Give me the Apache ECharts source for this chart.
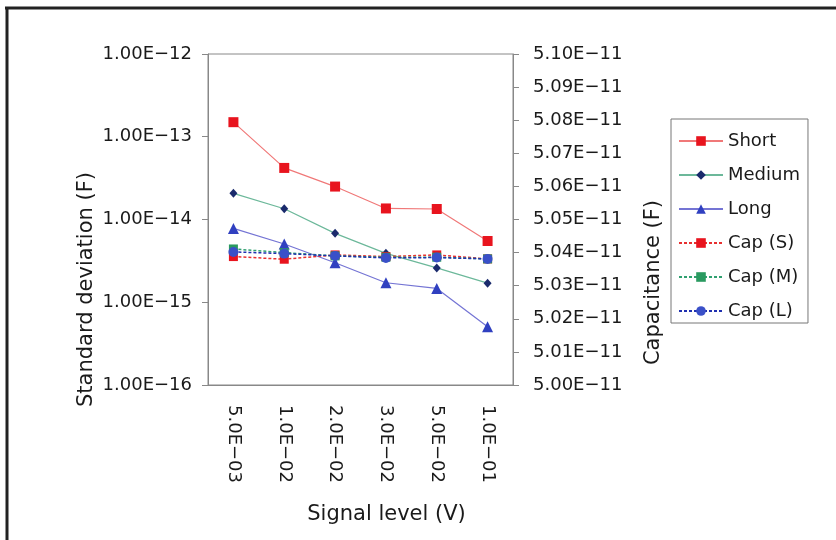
<!DOCTYPE html>
<html>
<head>
<meta charset="utf-8">
<script src="https://cdn.jsdelivr.net/npm/echarts@6/dist/echarts.min.js"></script>
<style>
  html, body { margin: 0; padding: 0; background: #fff; }
  #chart { width: 836px; height: 540px; }
</style>
</head>
<body>
<div id="chart"></div>
<script>
// 信号レベル（横軸）
var signalLevels = ['5.0E-03', '1.0E-02', '2.0E-02', '3.0E-02', '5.0E-02', '1.0E-01'];
// 標準偏差 (F)
var shortSd = [1.5e-13, 4.2e-14, 2.5e-14, 1.36e-14, 1.34e-14, 5.5e-15];
var mediumSd = [2.07e-14, 1.35e-14, 6.8e-15, 3.9e-15, 2.6e-15, 1.7e-15];
var longSd = [7.8e-15, 5.06e-15, 3.0e-15, 1.72e-15, 1.47e-15, 5.07e-16];
// 容量 (F)
var capS = [5.0388e-11, 5.0380e-11, 5.0393e-11, 5.0388e-11, 5.0393e-11, 5.0381e-11];
var capM = [5.0411e-11, 5.0400e-11, 5.0390e-11, 5.0386e-11, 5.0386e-11, 5.0381e-11];
var capL = [5.0402e-11, 5.0397e-11, 5.0390e-11, 5.0384e-11, 5.0385e-11, 5.0381e-11];

var font = 'DejaVu Sans';
var txt = '#1a1a1a';
var axisGrey = '#888';

function expLabel(v) {
    return Number(v).toExponential(2).toUpperCase().replace('-', '\u2212');
}

var myChart = echarts.init(document.getElementById('chart'));
var option = {
    backgroundColor: '#fff',
    animation: false,
    textStyle: { fontFamily: font, color: txt },
    graphic: [
        { type: 'line', shape: { x1: 5, y1: 8, x2: 836, y2: 8 }, style: { stroke: '#222', lineWidth: 3 } },
        { type: 'line', shape: { x1: 7, y1: 8, x2: 7, y2: 540 }, style: { stroke: '#222', lineWidth: 3 } }
    ],
    grid: {
        left: 208, right: 323, top: 54, bottom: 155,
        show: true, borderColor: axisGrey, borderWidth: 1, backgroundColor: 'transparent'
    },
    legend: {
        orient: 'vertical',
        left: 671, top: 119,
        padding: [12, 8, 2, 7],
        itemWidth: 44, itemHeight: 12, itemGap: 14,
        borderColor: '#777', borderWidth: 1,
        textStyle: { fontFamily: font, fontSize: 18, color: txt, lineHeight: 20 },
        data: ['Short', 'Medium', 'Long', 'Cap (S)', 'Cap (M)', 'Cap (L)']
    },
    xAxis: {
        type: 'category',
        data: signalLevels,
        boundaryGap: true,
        name: 'Signal level (V)',
        nameLocation: 'middle',
        nameGap: 119,
        nameTextStyle: { fontFamily: font, fontSize: 21, color: txt, padding: [0, 0, 0, 52] },
        axisLine: { lineStyle: { color: axisGrey } },
        axisTick: { inside: true, length: 6, lineStyle: { color: axisGrey } },
        axisLabel: { rotate: -90, margin: 20, fontFamily: font, fontSize: 18, color: txt,
            formatter: function (v) { return v.replace('-', '\u2212'); } },
        splitLine: { show: false }
    },
    yAxis: [
        {
            type: 'log',
            logBase: 10,
            min: 1e-16,
            max: 1e-12,
            name: 'Standard deviation (F)',
            nameLocation: 'middle',
            nameRotate: 90,
            nameGap: 111,
            nameTextStyle: { fontFamily: font, fontSize: 21, color: txt, padding: [0, 140, 0, 0] },
            axisLine: { show: true, lineStyle: { color: axisGrey } },
            axisTick: { show: true, length: 6, lineStyle: { color: axisGrey } },
            axisLabel: { margin: 16, fontFamily: font, fontSize: 18, color: txt, formatter: expLabel },
            splitLine: { show: false },
            minorTick: { show: false }
        },
        {
            type: 'value',
            min: 5.00e-11,
            max: 5.10e-11,
            interval: 1e-13,
            position: 'right',
            name: 'Capacitance (F)',
            nameLocation: 'middle',
            nameRotate: 90,
            nameGap: 130,
            nameTextStyle: { fontFamily: font, fontSize: 21, color: txt, padding: [0, 126, 0, 0] },
            axisLine: { show: true, lineStyle: { color: axisGrey } },
            axisTick: { show: true, length: 6, lineStyle: { color: axisGrey } },
            axisLabel: { margin: 20, fontFamily: font, fontSize: 18, color: txt, formatter: expLabel },
            splitLine: { show: false }
        }
    ],
    series: [
        {
            name: 'Short', type: 'line', yAxisIndex: 0, data: shortSd,
            symbol: 'rect', symbolSize: 10,
            lineStyle: { color: '#f07878', width: 1.2 },
            itemStyle: { color: '#e8141e' }
        },
        {
            name: 'Medium', type: 'line', yAxisIndex: 0, data: mediumSd,
            symbol: 'diamond', symbolSize: [8, 9],
            lineStyle: { color: '#6cb89a', width: 1.2 },
            itemStyle: { color: '#1a2a6c' }
        },
        {
            name: 'Long', type: 'line', yAxisIndex: 0, data: longSd,
            symbol: 'triangle', symbolSize: 11,
            lineStyle: { color: '#7474d4', width: 1.2 },
            itemStyle: { color: '#3040c0' }
        },
        {
            name: 'Cap (S)', type: 'line', yAxisIndex: 1, data: capS,
            symbol: 'rect', symbolSize: 9,
            lineStyle: { color: '#e83030', width: 1.5, type: [3, 2] },
            itemStyle: { color: '#e8141e' }
        },
        {
            name: 'Cap (M)', type: 'line', yAxisIndex: 1, data: capM,
            symbol: 'rect', symbolSize: 9,
            lineStyle: { color: '#30a070', width: 1.5, type: [3, 2] },
            itemStyle: { color: '#2a9a60' }
        },
        {
            name: 'Cap (L)', type: 'line', yAxisIndex: 1, data: capL,
            symbol: 'circle', symbolSize: 10,
            lineStyle: { color: '#2030b0', width: 1.5, type: [3, 2] },
            itemStyle: { color: '#3a50c8' }
        }
    ]
};
myChart.setOption(option);
</script>
</body>
</html>
